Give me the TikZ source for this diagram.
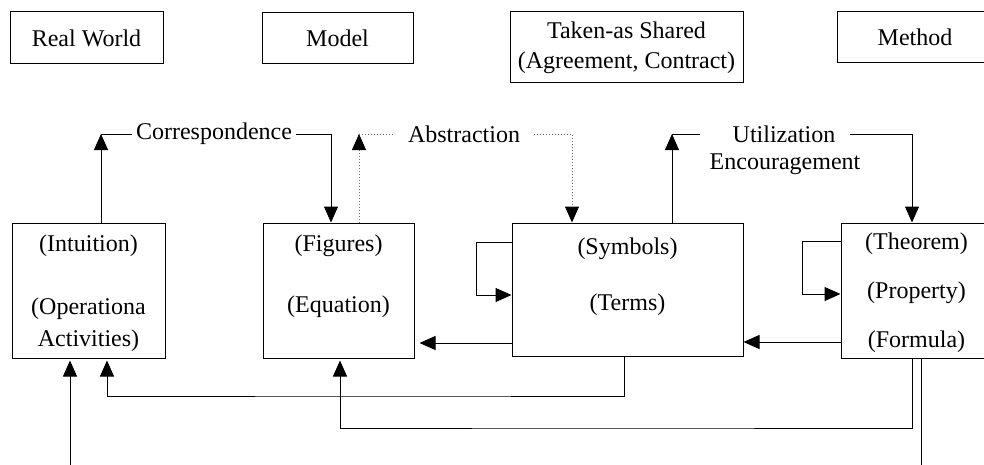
\documentclass[tikz,border=0pt]{standalone}
\usepackage{fontspec}
\setmainfont{Liberation Serif}
\usetikzlibrary{arrows.meta,positioning}
\tikzset{box/.style={draw, inner sep=0pt, align=center},
  txt/.style={inner sep=0pt, align=center},
  lbl/.style={inner sep=2pt},
  arr/.style={-{Triangle[length=8pt,width=7pt]}},
  abs/.style={black!60, densely dotted},
  absarr/.style={abs, -{Triangle[length=8pt,width=7pt,color=black]}}}

\begin{document}
\begin{tikzpicture}[x=.5pt,y=-.5pt,line width=.5pt,font=\fontsize{12}{16}\selectfont]
\useasboundingbox (0,0) rectangle (984,465);
\clip (0,0) rectangle (984,465);
\node[box, minimum width=76.5pt, minimum height=26pt] (real) at (86.5,38) {Real World};
\node[box, minimum width=75.5pt, minimum height=25.5pt] (model) at (337.5,38.5) {Model};
\node[box, minimum width=116.5pt, minimum height=35.5pt, font=\fontsize{12}{15}\selectfont] (shared) at (626.5,47.5) {Taken-as Shared\\(Agreement, Contract)};
\node[box, minimum width=78pt, minimum height=25.5pt] (method) at (915,37.5) {Method};

\node[box, minimum width=76.5pt, minimum height=67.5pt] (intuition) at (88.5,290.5) {};
\node[box, minimum width=75.5pt, minimum height=67.5pt] (figures) at (338.5,290.5) {};
\node[box, minimum width=115.5pt, minimum height=66.5pt] (symbols) at (627.5,289.5) {};
\node[box, minimum width=75.5pt, minimum height=67.5pt] (theorem) at (916.5,290.5) {};

\node[txt] (intuition-a) at ([yshift=-11.5pt]intuition.north) {(Intuition)};
\node[txt] (intuition-b) at ([yshift=-51pt]intuition.north) {(Operationa\\Activities)};
\node[txt] (figures-a) at ([yshift=-11.5pt]figures.north) {(Figures)};
\node[txt] (figures-b) at ([yshift=-42pt]figures.north) {(Equation)};
\node[txt] (symbols-a) at ([yshift=-13pt]symbols.north) {(Symbols)};
\node[txt] (symbols-b) at ([yshift=-41pt]symbols.north) {(Terms)};
\node[txt] (theorem-a) at ([yshift=-10.5pt]theorem.north) {(Theorem)};
\node[txt] (theorem-b) at ([yshift=-35pt]theorem.north) {(Property)};
\node[txt] (theorem-c) at ([yshift=-59.5pt]theorem.north) {(Formula)};

\node[lbl] (corr) at (214,134) {Correspondence};
\node[lbl, inner xsep=7pt] (abstr) at (464,134) {Abstraction};
\node[txt] (util) at (784,134) {Utilization};
\node[txt] (encour) at (785,164) {Encouragement};

\coordinate (c1) at (101,134);
\draw[arr] ([xshift=6.25pt]intuition.north) -- (c1);
\draw (c1) -- (corr.west);
\draw[arr] (corr.east) -| ([xshift=-3.75pt]figures.north);

\coordinate (a1) at (359,134);
\draw[absarr] ([xshift=10.25pt]figures.north) -- (a1);
\draw[abs] (a1) -- (abstr.west);
\draw[absarr] (abstr.east) -| ([xshift=-27.75pt]symbols.north);

\coordinate (u1) at (672,134);
\coordinate (u2) at (700,134);
\coordinate (u3) at (850,134);
\draw[arr] ([xshift=22.25pt]symbols.north) -- (u1);
\draw (u1) -- (u2);
\draw[arr] (u3) -| ([xshift=-2.25pt]theorem.north);

\draw[arr] ([yshift=23.75pt]symbols.west) -- ++(-17.5pt,0) |- ([yshift=-2.75pt]symbols.west);
\draw[arr] ([yshift=24.75pt]theorem.west) -- ++(-19pt,0) |- ([yshift=-1.75pt]theorem.west);

\draw[arr] ([yshift=-25.75pt]theorem.west) -- ([yshift=-25.75pt]theorem.west -| symbols.east);
\draw[arr, shorten >=2.5pt] ([yshift=-26.75pt]symbols.west) -- ([yshift=-26.75pt]symbols.west -| figures.east);

\coordinate (r1) at (400,396);
\draw[arr, shorten >=1pt] ([xshift=-1.75pt]symbols.south) |- (r1) -| ([xshift=9.25pt]intuition.south);
\coordinate (r2) at (600,428);
\draw[arr, shorten >=1pt] ([xshift=-2.25pt]theorem.south) |- (r2) -| ([xshift=.75pt]figures.south);
\coordinate (b1) at (921,465);
\draw ([xshift=2.25pt]theorem.south) -- (b1);
\coordinate (b2) at (70,465);
\draw[arr, shorten >=1pt] (b2) -- ([xshift=-9.25pt]intuition.south);
\end{tikzpicture}
\end{document}
